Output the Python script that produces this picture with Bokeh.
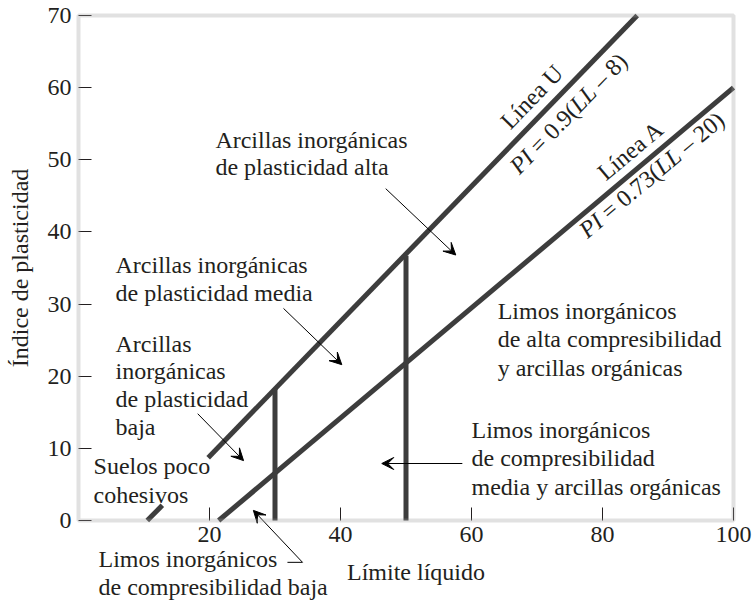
import math
from bokeh.plotting import figure
from bokeh.models import Range1d, FixedTicker, Label, Arrow, VeeHead, BoxAnnotation
from bokeh.embed import file_html
from bokeh.resources import INLINE

# ---- data ----
u_line_ll = [[10.5, 12.8], [19.8, 85.3]]      # Línea U (broken where the text sits)
u_line_pi = [[0.0, 2.1], [8.7, 70.0]]
a_line_ll = [21.4, 100.0]                     # Línea A
a_line_pi = [0.0, 60.0]
div_ll = [30, 50]                             # vertical divisions
div_pi_top = [18.3, 36.7]
div_pi_bottom = [0, 0]
x_ticks = [20, 40, 60, 80, 100]
y_ticks = [0, 10, 20, 30, 40, 50, 60, 70]
LL_MIN, LL_MAX = 0, 100
PI_MIN, PI_MAX = 0, 70

FONT = "Liberation Serif"
TXT = "#231f20"
LINE = "#3d3d3d"
FRAME = "#9c9c9c"
FS = "24px"
PX_X = 6.55     # px per LL unit
PX_Y = 7.214    # px per PI unit

W, H = 752, 602
p = figure(width=W, height=H, output_backend="svg", toolbar_location=None,
           x_range=Range1d(-78 / PX_X, (W - 78) / PX_X),
           y_range=Range1d(-(H - 520) / PX_Y, 520 / PX_Y),
           min_border=0)
p.title.visible = False
p.grid.visible = False
p.outline_line_color = None
p.background_fill_color = "white"
p.border_fill_color = "white"

for ax in (p.xaxis[0], p.yaxis[0]):
    ax.fixed_location = 0
    ax.axis_line_color = None
    ax.major_tick_in = 13
    ax.major_tick_out = 0
    ax.minor_tick_line_color = None
    ax.major_tick_line_color = TXT
    ax.major_tick_line_width = 1
    ax.major_label_text_font = FONT
    ax.major_label_text_font_size = FS
    ax.major_label_text_color = TXT
    ax.axis_label_text_font = FONT
    ax.axis_label_text_font_size = FS
    ax.axis_label_text_font_style = "normal"
    ax.axis_label_text_color = TXT

p.xaxis.ticker = FixedTicker(ticks=x_ticks)
p.yaxis.ticker = FixedTicker(ticks=y_ticks)
p.xaxis.bounds = (1.6, 101.6)
p.yaxis.bounds = (PI_MIN, PI_MAX)
p.xaxis.axis_label = "Límite líquido"
p.yaxis.axis_label = "Índice de plasticidad"
p.xaxis.major_label_standoff = 6
p.yaxis.major_label_standoff = 7
p.xaxis.axis_label_standoff = 14
p.yaxis.axis_label_standoff = 12

# chart box
p.add_layout(BoxAnnotation(left=LL_MIN, right=LL_MAX, bottom=PI_MIN, top=PI_MAX,
                           fill_alpha=0, line_color=FRAME, line_width=4, level="overlay"))

# ---- lines ----
p.multi_line(xs=u_line_ll, ys=u_line_pi, line_color=LINE, line_width=5)
p.line(a_line_ll, a_line_pi, line_color=LINE, line_width=5)
p.segment(x0=div_ll, y0=div_pi_bottom, x1=div_ll, y1=div_pi_top, line_color=LINE, line_width=5)

# ---- region labels (y = middle of each text line) ----
def add_lines(x, ys, lines):
    for y, t in zip(ys, lines):
        p.add_layout(Label(x=x, y=y, text=t, text_font=FONT, text_font_size=FS,
                           text_color=TXT, text_baseline="middle", text_align="left"))

add_lines(20.9, [52.8, 49.0], ["Arcillas inorgánicas", "de plasticidad alta"])
add_lines(5.65, [35.4, 31.6], ["Arcillas inorgánicas", "de plasticidad media"])
add_lines(5.65, [24.5, 20.7, 16.8, 12.9], ["Arcillas", "inorgánicas", "de plasticidad", "baja"])
add_lines(2.3, [7.5, 3.6], ["Suelos poco", "cohesivos"])
add_lines(3.05, [-5.3, -9.2], ["Limos inorgánicos", "de compresibilidad baja"])
add_lines(64.0, [29.0, 25.1, 21.2], ["Limos inorgánicos", "de alta compresibilidad", "y arcillas orgánicas"])
add_lines(60.0, [12.5, 8.6, 4.7], ["Limos inorgánicos", "de compresibilidad", "media y arcillas orgánicas"])

# ---- arrows ----
def arrow(x0, y0, x1, y1):
    p.add_layout(Arrow(end=VeeHead(size=12, fill_color="black", line_color="black", line_width=1),
                       x_start=x0, y_start=y0, x_end=x1, y_end=y1,
                       line_color="black", line_width=1))

arrow(46.9, 46.0, 57.6, 36.8)
arrow(31.3, 29.4, 40.2, 21.6)
arrow(18.2, 14.8, 25.2, 8.3)
arrow(34.2, -5.8, 26.7, 1.4)
arrow(58.6, 7.9, 46.3, 7.9)
p.add_layout(Arrow(end=None, x_start=31.9, y_start=-5.8, x_end=34.2, y_end=-5.8,
                   line_color="black", line_width=1))

# ---- line labels ----
def rot(x, y, t, ang):
    p.add_layout(Label(x=x, y=y, text=t, angle=ang, angle_units="deg", text_font=FONT,
                       text_font_size=FS, text_color=TXT, text_align="center",
                       text_baseline="middle"))

# Times-metric advance widths (em) used to lay out mixed italic/roman runs
ADV = {"P": .556, "I": .333, " ": .25, "=": .564, "0": .5, ".": .25, "9": .5, "7": .5,
       "3": .5, "(": .333, ")": .333, "L": .611, "–": .5, "8": .5, "2": .5}
ADV_IT = {"P": .611, "I": .333, "L": .556}

def rich(cx, cy, pieces, ang, size=24):
    th = math.radians(ang)
    widths = [sum((ADV_IT if it else ADV)[c] for c in s) * size for s, it in pieces]
    total = sum(widths)
    d = -total / 2
    for (s, it), w in zip(pieces, widths):
        lead = (len(s) - len(s.lstrip(" "))) * ADV[" "] * size
        ds = d + lead
        ox = ds * math.cos(th)
        oy = ds * math.sin(th)
        p.add_layout(Label(x=cx + ox / PX_X, y=cy + oy / PX_Y, text=s.strip(" "), angle=ang,
                           angle_units="deg", text_font=FONT, text_font_size=f"{size}px",
                           text_font_style="italic" if it else "normal", text_color=TXT,
                           text_align="left", text_baseline="middle"))
        d += w

rot(69.2, 58.7, "Línea U", 45.9)
rich(74.8, 56.4, [("PI", True), (" = 0.9(", False), ("LL", True), (" – 8)", False)], 45.9)
rot(84.3, 51.3, "Línea A", 40)
rich(87.5, 47.9, [("PI", True), (" = 0.73(", False), ("LL", True), (" – 20)", False)], 40)

open("out.html", "w").write(file_html(p, INLINE))
